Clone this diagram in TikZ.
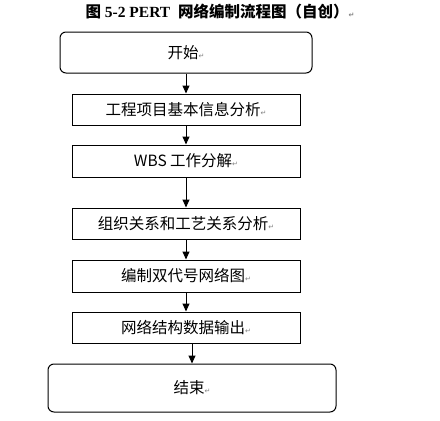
\documentclass[tikz,border=0pt]{standalone}
\usepackage{fontspec}
\setmainfont{Liberation Serif}
\newfontfamily\cjk{Noto Sans CJK SC}
\newfontfamily\symb{DejaVu Sans}
\usepackage{xcolor}
\usepackage{tikz}
\usetikzlibrary{positioning,arrows.meta}
\newcommand{\pmark}{{\symb\fontsize{7}{7}\selectfont\textcolor{gray}{↵}}}
\tikzset{stepbox/.style={rectangle,draw,minimum width=228pt,minimum height=31pt,inner sep=0pt,font=\cjk\fontsize{15.5}{16}\selectfont}}
\tikzset{term/.style={stepbox,rounded corners=6pt}}

\begin{document}
\begin{tikzpicture}[>={Triangle[length=8pt,width=7pt]}, x=1pt, y=1pt, line width=1pt]
    \useasboundingbox (0,0) rectangle (440,-421);
    \node[font=\bfseries\fontsize{15.5}{16}\selectfont] (title) at (220,-12) {{\cjk 图} 5-2 PERT\ \ {\cjk 网络编制流程图（自创）}\pmark};

    \node[term,minimum width=252pt,minimum height=41pt] (start) at (186,-52.5) {开始\pmark};
    \node[stepbox] (info) at (186,-109.5) {工程项目基本信息分析\pmark};
    \node[stepbox,minimum height=32pt] (wbs) at (186,-161) {WBS 工作分解\pmark};
    \node[stepbox] (rel) at (186,-223.5) {组织关系和工艺关系分析\pmark};
    \node[stepbox,minimum height=32pt] (draft) at (186,-276) {编制双代号网络图\pmark};
    \node[stepbox] (output) at (186,-327.5) {网络结构数据输出\pmark};
    \node[term,minimum width=288pt,minimum height=48pt] (finish) at (192,-388) {结束\pmark};

    \draw [->] (start) to [] (info);
    \draw [->] (info) to [] (wbs);
    \draw [->] (wbs) to [] (rel);
    \draw [->] (rel) to [] (draft);
    \draw [->] (draft) to [] (output);
    \draw [->] (finish.north |- output.south) to [] (finish.north);
\end{tikzpicture}
\end{document}
